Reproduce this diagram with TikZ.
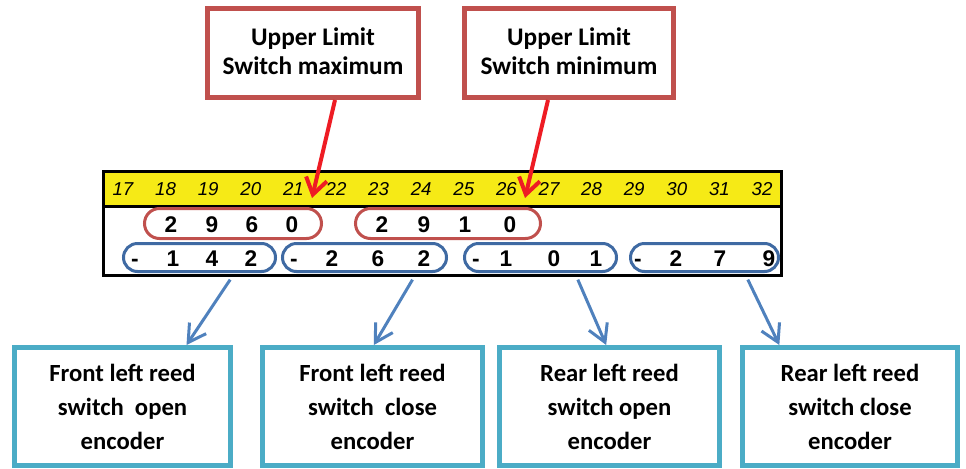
\documentclass[tikz,border=0pt]{standalone}
\usepackage{fontspec}
\setmainfont{Carlito}
\newfontfamily\arialfont{Liberation Sans}
\usepackage{xcolor}
\usetikzlibrary{arrows.meta, positioning}

\definecolor{boxred}{HTML}{C0504D}
\definecolor{ovalblue}{HTML}{3F6AA3}
\definecolor{arrowblue}{HTML}{4F81BD}
\definecolor{boxcyan}{HTML}{4BACC6}
\definecolor{tipred}{HTML}{EE1C24}
\definecolor{stripyellow}{HTML}{F6EA16}

\begin{document}
\begin{tikzpicture}[x=0.75pt, y=-0.75pt,
    limitbox/.style={draw=boxred, line width=3.75pt, fill=white, align=center, inner sep=0pt,
      minimum height=66.75pt, font=\fontsize{19}{22}\selectfont\bfseries},
    encbox/.style={draw=boxcyan, line width=3.75pt, fill=white, align=center, inner sep=0pt,
      minimum height=88.5pt, font=\fontsize{18.5}{25.5}\selectfont\bfseries},
    band/.style={draw=black, line width=2.25pt, outer sep=0pt, inner sep=0pt, minimum width=508.5pt},
    tick/.style={font=\arialfont\itshape\fontsize{14}{16}\selectfont, inner sep=0pt},
    digit/.style={font=\arialfont\bfseries\fontsize{17}{19}\selectfont, inner sep=0pt, anchor=base},
    redoval/.style={draw=boxred, line width=2.25pt, rounded corners=11.25pt, minimum height=22.5pt, inner sep=0pt},
    blueoval/.style={draw=ovalblue, line width=2.25pt, rounded corners=10.5pt, minimum height=21pt, inner sep=0pt},
    redarrow/.style={draw=tipred, line width=3pt, -{Straight Barb[length=12pt, width=16pt]}},
    bluearrow/.style={draw=arrowblue, line width=2.25pt, -{Straight Barb[length=13pt, width=15pt]}}]

\useasboundingbox (0,0) rectangle (966,468);

% limit switch labels
\node[limitbox, minimum width=158.25pt] (umax) at (313,53) {Upper Limit\\Switch maximum\vphantom{g}};
\node[limitbox, minimum width=156.75pt] (umin) at (569,53) {Upper Limit\\Switch minimum\vphantom{g}};

% encoder strip
\node[band, fill=stripyellow, minimum height=26.25pt] (scale) at (442.5,189) {};
\node[band, fill=white, minimum height=51.75pt, below=0pt of scale] (values) {};

\foreach \n [count=\i from 0] in {17,...,32}
  \node[tick] (t\n) at (123+42.6*\i,189) {\n};

% upper limit values
\node[redoval, minimum width=132.75pt] (maxval) at (233,223.5) {};
\node[redoval, minimum width=138.75pt] (minval) at (448,223.5) {};
\foreach \x/\d [count=\i] in {171/2, 212/9, 252/6, 292/0, 382/2, 424/9, 465/1, 510/0}
  \node[digit] (u\i) at (\x,232) {\d};

% reed switch values
\node[blueoval, minimum width=114pt] (flo) at (199.5,257.5) {};
\node[blueoval, minimum width=123pt] (flc) at (364.5,257.5) {};
\node[blueoval, minimum width=114pt] (rlo) at (540.5,257.5) {};
\node[blueoval, minimum width=111pt] (rlc) at (704.5,257.5) {};
\foreach \x/\d [count=\i] in {135/-, 173/1, 212/4, 251/2, 294/-, 332/2, 378/6, 424/2,
    476/-, 506/1, 554/0, 596/1, 638/-, 676/2, 720/7, 769/9}
  \node[digit] (r\i) at (\x,266) {\d};

% encoder labels
\node[encbox, minimum width=162pt] (fopen) at (122.5,406.5) {Front left reed\\switch\ \ open\\encoder};
\node[encbox, minimum width=165pt] (fclose) at (372.5,406.5) {Front left reed\\switch\ \ close\\encoder};
\node[encbox, minimum width=165pt] (ropen) at (609.5,406.5) {Rear left reed\\switch open\\encoder};
\node[encbox, minimum width=161.25pt] (rclose) at (850,406.5) {Rear left reed\\switch close\\encoder};

\coordinate (tipmax) at (312,198);
\coordinate (tipmin) at (525,198);
\draw[redarrow] ([xshift=16.5pt]umax.south) -- (tipmax);
\draw[redarrow] ([xshift=-15.75pt]umin.south) -- (tipmin);

\draw[bluearrow] ([xshift=23pt, yshift=-5pt]flo.south) -- ([xshift=48pt]fopen.north);
\draw[bluearrow] ([xshift=36pt, yshift=-5pt]flc.south) -- ([xshift=1pt]fclose.north);
\draw[bluearrow] ([xshift=28pt, yshift=-5pt]rlo.south) -- ([xshift=-2.5pt]ropen.north);
\draw[bluearrow] ([xshift=32.5pt, yshift=-5pt]rlc.south) -- ([xshift=-53pt]rclose.north);
\end{tikzpicture}
\end{document}
